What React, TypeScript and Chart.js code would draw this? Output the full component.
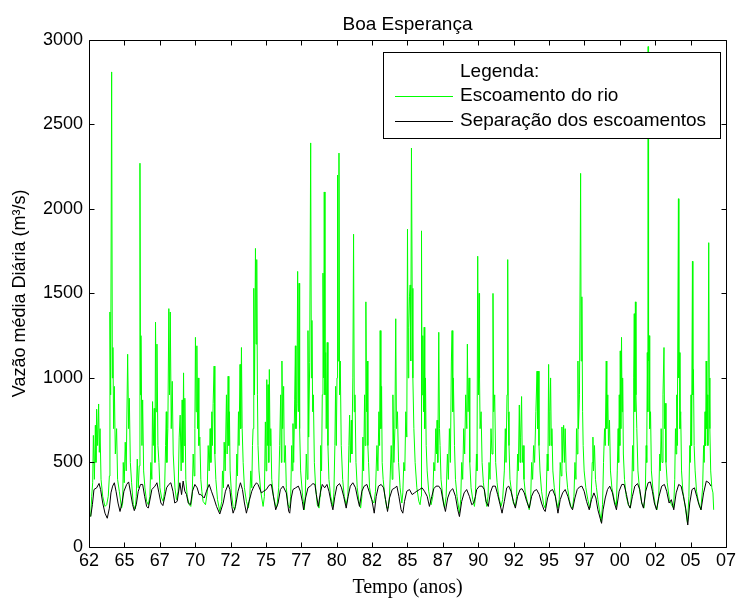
import React, { useEffect, useRef } from 'react';
import { Chart, registerables } from 'chart.js';

Chart.register(...registerables);

// ---- Text ----
const chartTitle = 'Boa Esperança';
const xAxisTitle = 'Tempo (anos)';
const yAxisTitle = 'Vazão média Diária (m³/s)';
const legendTitle = 'Legenda:';
const seriesNames = ['Escoamento do rio', 'Separação dos escoamentos'];

// ---- Axes ----
const xTickYears = [1962.5, 1965, 1967.5, 1970, 1972.5, 1975, 1977.5, 1980, 1982.5, 1985, 1987.5, 1990, 1992.5, 1995, 1997.5, 2000, 2002.5, 2005, 2007.5];
const xTickLabels = ['62', '65', '67', '70', '72', '75', '77', '80', '82', '85', '87', '90', '92', '95', '97', '00', '02', '05', '07'];
const yTickValues = [0, 500, 1000, 1500, 2000, 2500, 3000];

// ---- River flow (green), [year, m3/s] ----
const flow1960s: [number, number][] = [[1962.62,180],[1962.69,300],[1962.76,380],[1962.81,660],[1962.88,400],[1962.95,720],[1962.99,500],[1963.04,815],[1963.11,600],[1963.18,846],[1963.23,560],[1963.28,700],[1963.35,400],[1963.47,300],[1963.63,240],[1963.75,250],[1963.86,300],[1963.94,420],[1963.98,1390],[1964.03,900],[1964.10,2810],[1964.15,1000],[1964.19,1180],[1964.24,700],[1964.29,950],[1964.36,550],[1964.45,700],[1964.52,400],[1964.64,330],[1964.80,230],[1964.88,260],[1964.92,500],[1964.99,380],[1965.06,620],[1965.13,450],[1965.23,1140],[1965.30,700],[1965.35,880],[1965.42,500],[1965.51,380],[1965.63,250],[1965.77,225],[1965.84,300],[1965.91,520],[1965.98,350],[1966.05,480],[1966.10,2270],[1966.14,900],[1966.17,1250],[1966.24,600],[1966.29,870],[1966.36,450],[1966.45,350],[1966.57,270],[1966.69,250],[1966.80,300],[1966.87,500],[1966.94,400],[1966.99,860],[1967.04,600],[1967.11,820],[1967.16,500],[1967.20,1330],[1967.25,800],[1967.30,1200],[1967.37,600],[1967.44,500],[1967.51,350],[1967.63,290],[1967.74,270],[1967.84,330],[1967.91,600],[1967.96,800],[1968.00,500],[1968.07,700],[1968.14,1410],[1968.19,900],[1968.24,1390],[1968.31,700],[1968.38,980],[1968.45,550],[1968.57,350],[1968.68,280],[1968.80,330],[1968.87,650],[1968.94,780],[1969.01,450],[1969.08,870],[1969.13,500],[1969.18,1030],[1969.22,600],[1969.27,880],[1969.34,400],[1969.44,300],[1969.58,250],[1969.69,240],[1969.79,300],[1969.86,550],[1969.93,420],[1969.98,700]];
const flow1970s: [number, number][] = [[1970.02,1240],[1970.07,800],[1970.12,1190],[1970.17,700],[1970.21,1000],[1970.26,600],[1970.33,650],[1970.40,400],[1970.47,330],[1970.56,270],[1970.73,250],[1970.85,320],[1970.92,600],[1970.99,450],[1971.06,700],[1971.11,500],[1971.18,800],[1971.22,600],[1971.27,850],[1971.34,1070],[1971.39,550],[1971.46,400],[1971.58,280],[1971.74,210],[1971.88,270],[1971.93,450],[1972.00,350],[1972.05,620],[1972.12,450],[1972.21,900],[1972.26,550],[1972.33,1010],[1972.38,600],[1972.42,800],[1972.47,450],[1972.56,320],[1972.68,240],[1972.80,220],[1972.87,280],[1972.94,550],[1972.99,420],[1973.06,800],[1973.10,600],[1973.17,1080],[1973.22,700],[1973.27,1180],[1973.32,700],[1973.39,500],[1973.48,350],[1973.62,270],[1973.76,230],[1973.86,300],[1973.93,450],[1974.00,350],[1974.05,600],[1974.09,700],[1974.14,1530],[1974.19,900],[1974.26,1766],[1974.30,1200],[1974.35,1700],[1974.40,900],[1974.44,600],[1974.51,450],[1974.63,330],[1974.80,240],[1974.89,300],[1974.96,740],[1975.01,450],[1975.06,990],[1975.10,600],[1975.15,960],[1975.20,500],[1975.24,1050],[1975.29,600],[1975.34,700],[1975.41,400],[1975.53,300],[1975.69,240],[1975.78,240],[1975.90,350],[1975.97,600],[1976.04,900],[1976.09,500],[1976.13,1100],[1976.18,700],[1976.25,950],[1976.30,500],[1976.37,600],[1976.44,350],[1976.56,250],[1976.68,230],[1976.75,300],[1976.82,600],[1976.87,450],[1976.91,730],[1976.96,500],[1977.03,870],[1977.08,1190],[1977.12,700],[1977.19,850],[1977.24,1630],[1977.29,800],[1977.34,1560],[1977.38,700],[1977.45,450],[1977.57,320],[1977.71,220],[1977.78,300],[1977.85,550],[1977.92,400],[1977.97,1280],[1978.02,650],[1978.09,1090],[1978.16,2390],[1978.21,1000],[1978.25,1340],[1978.30,800],[1978.35,900],[1978.42,500],[1978.51,350],[1978.63,250],[1978.75,230],[1978.82,300],[1978.86,600],[1978.93,450],[1978.98,900],[1979.03,1620],[1979.08,1000],[1979.12,2100],[1979.17,900],[1979.22,1150],[1979.26,700],[1979.33,1210],[1979.38,600],[1979.45,400],[1979.57,300],[1979.73,240],[1979.80,320],[1979.87,600],[1979.92,950],[1979.97,600]];
const flow1980s: [number, number][] = [[1980.02,1000],[1980.06,2200],[1980.11,1100],[1980.16,2330],[1980.20,900],[1980.25,1100],[1980.32,600],[1980.42,400],[1980.53,300],[1980.67,250],[1980.79,300],[1980.86,600],[1980.91,780],[1980.96,500],[1981.03,750],[1981.07,550],[1981.14,1000],[1981.19,1850],[1981.24,800],[1981.29,900],[1981.36,500],[1981.45,350],[1981.57,270],[1981.69,230],[1981.78,300],[1981.85,650],[1981.90,450],[1981.97,900],[1982.01,600],[1982.06,1450],[1982.11,800],[1982.16,1100],[1982.20,600],[1982.25,500],[1982.32,350],[1982.46,280],[1982.63,260],[1982.74,330],[1982.84,600],[1982.91,450],[1982.98,800],[1983.03,600],[1983.07,1280],[1983.12,700],[1983.17,950],[1983.21,500],[1983.28,400],[1983.40,300],[1983.54,230],[1983.64,230],[1983.73,300],[1983.85,600],[1983.92,400],[1983.97,900],[1984.04,500],[1984.11,700],[1984.17,1350],[1984.22,700],[1984.29,800],[1984.37,500],[1984.48,350],[1984.60,260],[1984.67,320],[1984.74,500],[1984.81,450],[1984.88,800],[1984.95,650],[1985.00,1880],[1985.05,1000],[1985.09,1300],[1985.14,1480],[1985.19,1550],[1985.23,1100],[1985.28,2360],[1985.33,1530],[1985.38,1000],[1985.45,700],[1985.54,500],[1985.66,350],[1985.80,270],[1985.89,250],[1985.96,300],[1985.99,1870],[1986.03,900],[1986.08,1250],[1986.13,800],[1986.18,1300],[1986.22,700],[1986.27,1000],[1986.32,600],[1986.39,450],[1986.50,330],[1986.67,250],[1986.79,300],[1986.86,500],[1986.93,450],[1987.00,700],[1987.05,550],[1987.09,750],[1987.14,500],[1987.21,1270],[1987.26,700],[1987.30,600],[1987.37,400],[1987.49,300],[1987.61,230],[1987.73,300],[1987.82,550],[1987.89,400],[1987.96,700],[1988.03,500],[1988.10,1100],[1988.15,1280],[1988.20,800],[1988.24,1000],[1988.32,600],[1988.39,400],[1988.50,300],[1988.67,200],[1988.76,280],[1988.83,500],[1988.90,400],[1988.97,700],[1989.04,550],[1989.11,900],[1989.19,700],[1989.23,1200],[1989.28,800],[1989.35,1000],[1989.40,500],[1989.49,350],[1989.61,280],[1989.73,240],[1989.80,300],[1989.87,550],[1989.91,450],[1989.96,1720]];
const flow1990s: [number, number][] = [[1990.01,900],[1990.06,1500],[1990.09,1000],[1990.13,700],[1990.20,800],[1990.27,500],[1990.36,380],[1990.48,300],[1990.60,240],[1990.69,300],[1990.76,500],[1990.83,400],[1990.90,700],[1990.97,550],[1991.04,1500],[1991.09,800],[1991.16,900],[1991.23,500],[1991.33,380],[1991.44,300],[1991.61,240],[1991.72,280],[1991.84,450],[1991.91,700],[1991.96,500],[1992.03,900],[1992.08,1700],[1992.12,800],[1992.17,600],[1992.24,400],[1992.36,320],[1992.48,260],[1992.62,240],[1992.71,300],[1992.78,550],[1992.83,450],[1992.90,840],[1992.95,500],[1992.99,650],[1993.06,890],[1993.11,500],[1993.16,600],[1993.23,400],[1993.32,320],[1993.49,260],[1993.60,220],[1993.70,280],[1993.77,500],[1993.84,400],[1993.91,600],[1993.98,500],[1994.07,800],[1994.15,1040],[1994.19,700],[1994.24,1040],[1994.29,600],[1994.36,450],[1994.47,330],[1994.62,250],[1994.73,230],[1994.80,300],[1994.87,550],[1994.92,450],[1994.97,1080],[1995.02,600],[1995.06,800],[1995.11,1000],[1995.16,600],[1995.20,700],[1995.27,450],[1995.37,350],[1995.49,280],[1995.63,230],[1995.72,280],[1995.79,500],[1995.86,420],[1995.91,710],[1995.96,500],[1996.03,720],[1996.10,500],[1996.14,700],[1996.21,450],[1996.31,350],[1996.43,280],[1996.54,240],[1996.66,230],[1996.76,300],[1996.83,500],[1996.90,400],[1996.94,700],[1996.99,550],[1997.04,1100],[1997.08,700],[1997.15,900],[1997.23,2210],[1997.27,1100],[1997.32,1480],[1997.37,800],[1997.41,600],[1997.48,450],[1997.60,350],[1997.74,280],[1997.88,230],[1997.98,300],[1998.05,500],[1998.10,650],[1998.14,450],[1998.21,600],[1998.28,400],[1998.35,350],[1998.45,280],[1998.59,200],[1998.68,150],[1998.78,250],[1998.85,500],[1998.92,700],[1998.97,600],[1999.04,1100],[1999.08,700],[1999.15,900],[1999.20,600],[1999.27,750],[1999.34,450],[1999.44,350],[1999.60,280],[1999.76,240],[1999.82,450],[1999.88,700],[1999.92,500],[1999.96,900]];
const flow2000s: [number, number][] = [[2000.00,600],[2000.03,1160],[2000.07,700],[2000.12,1240],[2000.16,800],[2000.20,1000],[2000.25,550],[2000.33,400],[2000.45,300],[2000.60,250],[2000.75,230],[2000.85,350],[2000.90,600],[2000.94,450],[2000.98,1000],[2001.02,1380],[2001.06,800],[2001.10,1450],[2001.14,900],[2001.20,700],[2001.28,450],[2001.40,330],[2001.55,260],[2001.70,230],[2001.80,320],[2001.86,600],[2001.90,500],[2001.94,1150],[2001.98,800],[2002.00,2960],[2002.03,1100],[2002.07,1250],[2002.11,700],[2002.17,800],[2002.23,450],[2002.35,330],[2002.50,250],[2002.62,220],[2002.75,300],[2002.82,550],[2002.86,450],[2002.92,700],[2002.98,500],[2003.05,900],[2003.12,1180],[2003.16,700],[2003.20,850],[2003.26,500],[2003.35,380],[2003.50,280],[2003.65,250],[2003.80,230],[2003.88,400],[2003.93,700],[2003.97,550],[2004.02,900],[2004.06,600],[2004.14,2060],[2004.17,1000],[2004.21,1150],[2004.25,700],[2004.30,800],[2004.36,450],[2004.45,330],[2004.60,250],[2004.78,140],[2004.88,300],[2004.94,600],[2004.98,500],[2005.03,900],[2005.07,600],[2005.13,1690],[2005.16,900],[2005.20,1050],[2005.25,600],[2005.32,450],[2005.42,330],[2005.55,270],[2005.72,220],[2005.85,350],[2005.92,600],[2005.96,500],[2006.02,800],[2006.06,600],[2006.10,1100],[2006.14,700],[2006.18,900],[2006.22,600],[2006.28,1800],[2006.32,1000],[2006.36,700],[2006.42,450],[2006.50,350],[2006.58,320],[2006.63,220]];

// ---- Baseflow separation (black), [year, m3/s] ----
const base1960s: [number, number][] = [[1962.62,180],[1962.74,250],[1962.85,340],[1963.04,350],[1963.21,376],[1963.32,340],[1963.47,260],[1963.63,200],[1963.79,170],[1963.94,230],[1964.05,320],[1964.17,360],[1964.29,380],[1964.41,330],[1964.55,260],[1964.69,210],[1964.83,260],[1964.97,330],[1965.16,370],[1965.30,385],[1965.44,320],[1965.58,250],[1965.70,215],[1965.84,250],[1965.98,330],[1966.14,370],[1966.29,370],[1966.43,300],[1966.57,240],[1966.69,230],[1966.83,290],[1966.94,340],[1967.16,360],[1967.30,380],[1967.44,320],[1967.58,260],[1967.72,245],[1967.86,300],[1967.98,350],[1968.14,370],[1968.28,380],[1968.43,330],[1968.56,260],[1968.73,270],[1968.92,380],[1969.04,310],[1969.15,390],[1969.27,330],[1969.39,310],[1969.51,260],[1969.67,250],[1969.81,330],[1969.98,370]];
const base1970s: [number, number][] = [[1970.14,350],[1970.28,310],[1970.40,310],[1970.52,300],[1970.64,290],[1970.80,330],[1970.99,370],[1971.15,330],[1971.32,290],[1971.51,240],[1971.74,195],[1971.98,260],[1972.14,330],[1972.33,370],[1972.45,340],[1972.59,240],[1972.68,200],[1972.85,240],[1973.03,330],[1973.20,380],[1973.34,340],[1973.48,260],[1973.62,200],[1973.81,270],[1974.00,330],[1974.16,360],[1974.33,380],[1974.44,370],[1974.68,320],[1974.84,330],[1975.03,340],[1975.22,365],[1975.38,370],[1975.55,290],[1975.69,220],[1975.86,260],[1976.02,340],[1976.21,360],[1976.44,320],[1976.61,210],[1976.68,200],[1976.79,290],[1976.91,340],[1977.10,350],[1977.29,360],[1977.43,330],[1977.57,270],[1977.66,220],[1977.80,290],[1977.97,350],[1978.13,360],[1978.32,375],[1978.46,370],[1978.56,310],[1978.70,240],[1978.84,320],[1978.98,370],[1979.15,350],[1979.31,370],[1979.45,330],[1979.64,250],[1979.73,220],[1979.87,300]];
const base1980s: [number, number][] = [[1980.01,360],[1980.20,375],[1980.34,350],[1980.49,300],[1980.67,230],[1980.81,300],[1980.96,360],[1981.14,380],[1981.33,350],[1981.47,290],[1981.61,240],[1981.78,330],[1981.94,360],[1982.13,370],[1982.32,320],[1982.48,280],[1982.65,200],[1982.79,300],[1982.95,360],[1983.14,370],[1983.31,350],[1983.45,280],[1983.59,210],[1983.73,290],[1983.92,340],[1984.11,350],[1984.25,360],[1984.39,300],[1984.55,220],[1984.67,200],[1984.79,270],[1984.95,330],[1985.14,340],[1985.33,310],[1985.49,320],[1985.66,330],[1985.85,340],[1986.03,350],[1986.20,330],[1986.39,300],[1986.55,240],[1986.72,300],[1986.86,345],[1987.02,360],[1987.21,360],[1987.37,340],[1987.54,260],[1987.68,210],[1987.84,290],[1988.01,330],[1988.20,345],[1988.39,300],[1988.55,220],[1988.67,180],[1988.83,270],[1989.00,320],[1989.18,340],[1989.37,300],[1989.54,250],[1989.68,260],[1989.80,300],[1989.89,340]];
const base1990s: [number, number][] = [[1990.08,360],[1990.27,360],[1990.43,340],[1990.55,270],[1990.71,240],[1990.85,320],[1991.02,360],[1991.21,360],[1991.37,310],[1991.54,250],[1991.68,200],[1991.84,270],[1992.01,350],[1992.15,360],[1992.31,330],[1992.48,270],[1992.62,230],[1992.78,300],[1992.95,340],[1993.09,345],[1993.25,320],[1993.42,270],[1993.60,230],[1993.77,300],[1993.93,330],[1994.12,340],[1994.31,310],[1994.47,260],[1994.64,220],[1994.73,210],[1994.90,290],[1995.06,330],[1995.25,340],[1995.44,300],[1995.63,200],[1995.79,280],[1995.96,320],[1996.14,340],[1996.33,300],[1996.52,240],[1996.66,220],[1996.83,290],[1996.99,340],[1997.15,355],[1997.32,360],[1997.48,330],[1997.65,270],[1997.84,220],[1998.00,280],[1998.17,320],[1998.31,290],[1998.45,220],[1998.61,170],[1998.71,140],[1998.82,220],[1998.97,290],[1999.13,340],[1999.29,360],[1999.48,320],[1999.62,260],[1999.76,220],[1999.95,330]];
const base2000s: [number, number][] = [[2000.14,370],[2000.30,370],[2000.47,310],[2000.61,250],[2000.73,230],[2000.89,300],[2001.06,360],[2001.25,375],[2001.41,340],[2001.55,260],[2001.67,230],[2001.83,330],[2002.00,380],[2002.16,385],[2002.30,330],[2002.44,260],[2002.59,220],[2002.77,300],[2002.96,360],[2003.15,370],[2003.31,330],[2003.48,260],[2003.64,280],[2003.81,220],[2003.98,320],[2004.16,370],[2004.33,360],[2004.49,300],[2004.65,230],[2004.80,130],[2004.94,260],[2005.10,340],[2005.27,350],[2005.43,300],[2005.59,250],[2005.74,220],[2005.92,320],[2006.11,390],[2006.30,380],[2006.44,360]];

const SANS = '"Liberation Sans", Arial, Helvetica, sans-serif';
const SERIF = '"Liberation Serif", "Times New Roman", serif';

const toXY = (arr: [number, number][]) => arr.map(([x, y]) => ({ x, y }));

const frameTicksPlugin = {
  id: 'frameTicks',
  afterDraw(chart: any) {
    const { ctx, chartArea, scales } = chart;
    const { left, right, top, bottom } = chartArea;
    const len = 5;
    ctx.save();
    ctx.strokeStyle = '#000';
    ctx.lineWidth = 1;
    ctx.beginPath();
    const L = Math.round(left) + 0.5, R = Math.round(right) + 0.5;
    const T = Math.round(top) + 0.5, B = Math.round(bottom) + 0.5;
    ctx.rect(L, T, R - L, B - T);
    for (const t of scales.x.ticks) {
      const px = Math.round(scales.x.getPixelForValue(t.value)) + 0.5;
      ctx.moveTo(px, B); ctx.lineTo(px, B - len);
      ctx.moveTo(px, T); ctx.lineTo(px, T + len);
    }
    for (const t of scales.y.ticks) {
      const py = Math.round(scales.y.getPixelForValue(t.value)) + 0.5;
      ctx.moveTo(L, py); ctx.lineTo(L + len, py);
      ctx.moveTo(R, py); ctx.lineTo(R - len, py);
    }
    ctx.stroke();
    ctx.restore();
  },
};

const legendBoxPlugin = {
  id: 'legendBox',
  afterDatasetsDraw(chart: any) {
    const { ctx, chartArea } = chart;
    const w = 337, h = 86;
    const right = Math.round(chartArea.right) - 6;
    const top = Math.round(chartArea.top) + 12;
    const left = right - w;
    ctx.save();
    ctx.fillStyle = '#fff';
    ctx.fillRect(left, top, w, h);
    ctx.strokeStyle = '#000';
    ctx.lineWidth = 1;
    ctx.strokeRect(left + 0.5, top + 0.5, w, h);
    ctx.font = `19px ${SANS}`;
    ctx.textBaseline = 'middle';
    ctx.textAlign = 'left';
    ctx.fillStyle = '#000';
    const textX = left + 77;
    ctx.fillText(legendTitle, textX, top + 20);
    chart.data.datasets.forEach((ds: any, i: number) => {
      const y = top + 44 + i * 25;
      ctx.strokeStyle = ds.borderColor;
      ctx.beginPath();
      ctx.moveTo(left + 12, y + 0.5);
      ctx.lineTo(left + 70, y + 0.5);
      ctx.stroke();
      ctx.fillStyle = '#000';
      ctx.fillText(ds.label, textX, y);
    });
    ctx.restore();
  },
};

export default function App() {
  const ref = useRef<HTMLCanvasElement>(null);
  useEffect(() => {
    if (!ref.current) return;
    const flow = [...flow1960s, ...flow1970s, ...flow1980s, ...flow1990s, ...flow2000s];
    const base = [...base1960s, ...base1970s, ...base1980s, ...base1990s, ...base2000s];
    const chart = new Chart(ref.current, {
      type: 'line',
      data: {
        datasets: [
          { label: seriesNames[0], data: toXY(flow), borderColor: '#00ff00', borderWidth: 1, pointRadius: 0, tension: 0, order: 2 },
          { label: seriesNames[1], data: toXY(base), borderColor: '#000000', borderWidth: 1, pointRadius: 0, tension: 0, order: 1 },
        ],
      },
      options: {
        responsive: false,
        animation: false,
        devicePixelRatio: 1,
        layout: { padding: { left: 0, right: 11, top: 0, bottom: 0 } },
        plugins: {
          legend: { display: false },
          tooltip: { enabled: false },
          title: {
            display: true,
            fullSize: false,
            text: chartTitle,
            color: '#000',
            font: { family: SANS, size: 19, weight: 'normal' },
            padding: { top: 13, bottom: 4 },
          },
        },
        scales: {
          x: {
            type: 'linear',
            min: xTickYears[0],
            max: xTickYears[xTickYears.length - 1],
            afterBuildTicks: (s: any) => { s.ticks = xTickYears.map((v) => ({ value: v })); },
            afterFit: (s: any) => { s.height = 61; },
            grid: { display: false, drawTicks: false },
            border: { display: false },
            ticks: {
              autoSkip: false,
              maxRotation: 0,
              padding: 3,
              color: '#000',
              font: { family: SANS, size: 18 },
              callback: (_v: any, i: number) => xTickLabels[i],
            },
            title: {
              display: true,
              text: xAxisTitle,
              color: '#000',
              font: { family: SERIF, size: 20 },
              padding: { top: 0, bottom: 8 },
            },
          },
          y: {
            type: 'linear',
            min: yTickValues[0],
            max: yTickValues[yTickValues.length - 1],
            afterBuildTicks: (s: any) => { s.ticks = yTickValues.map((v) => ({ value: v })); },
            afterFit: (s: any) => { s.width = 89; },
            grid: { display: false, drawTicks: false },
            border: { display: false },
            ticks: {
              padding: 6,
              color: '#000',
              font: { family: SANS, size: 18 },
              callback: (v: any) => String(v),
            },
            title: {
              display: true,
              text: yAxisTitle,
              color: '#000',
              font: { family: SANS, size: 18 },
              padding: { top: 9, bottom: 0 },
            },
          },
        },
      },
      plugins: [legendBoxPlugin, frameTicksPlugin],
    } as any);
    return () => chart.destroy();
  }, []);
  return (
    <div style={{ position: 'fixed', left: 0, top: 0, width: 739, height: 608, background: '#fff' }}>
      <canvas ref={ref} width={739} height={608} style={{ display: 'block', width: 739, height: 608 }} />
    </div>
  );
}
